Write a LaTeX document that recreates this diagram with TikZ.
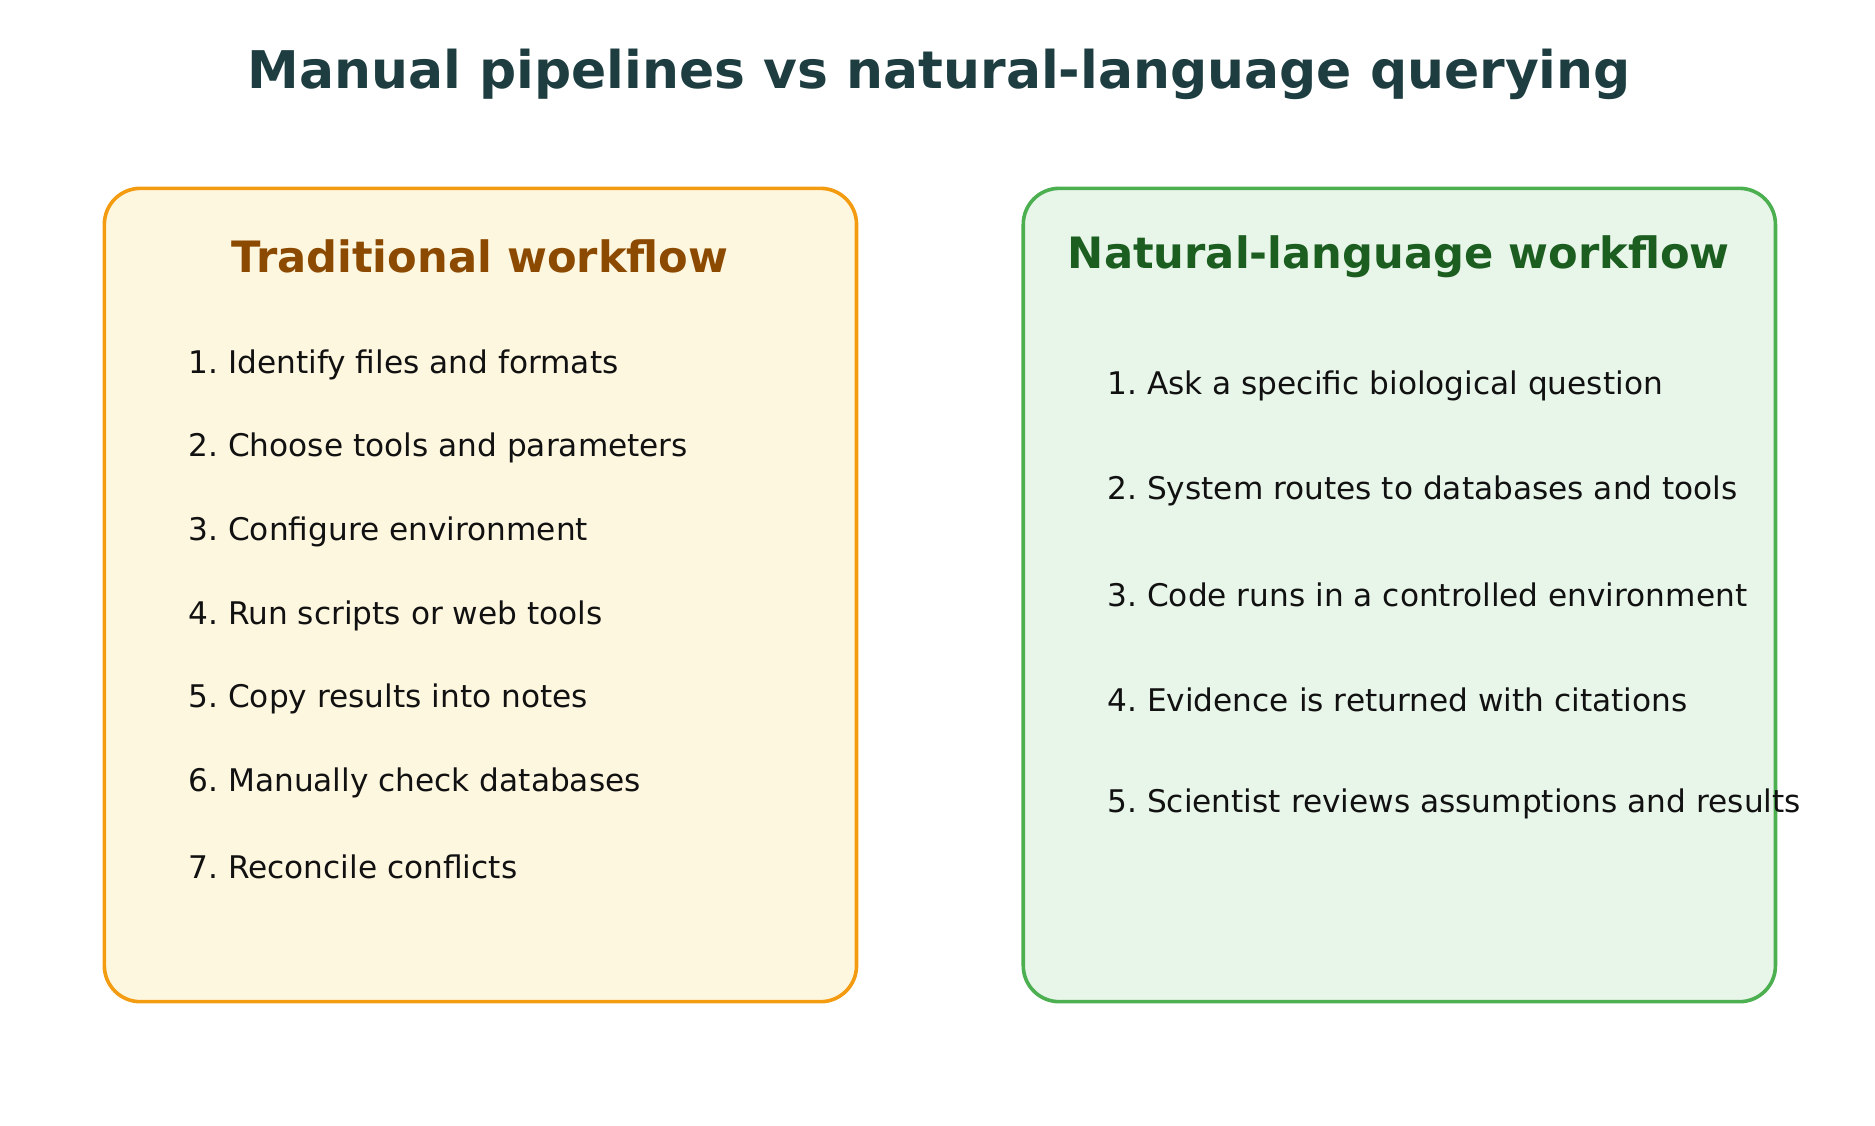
\documentclass[tikz,border=0pt]{standalone}
\usepackage{fontspec}
\setmainfont{DejaVu Sans}
\frenchspacing
\definecolor{ttl}{HTML}{1D3D40}
\definecolor{obord}{HTML}{F39C12}
\definecolor{ofill}{HTML}{FEF7E0}
\definecolor{ohead}{HTML}{8B4A00}
\definecolor{gbord}{HTML}{4CAF50}
\definecolor{gfill}{HTML}{E8F5E9}
\definecolor{ghead}{HTML}{1B5E20}
\definecolor{itm}{HTML}{111111}
\begin{document}
\begin{tikzpicture}[x=1pt,y=-1pt,
  panel/.style={rounded corners=30pt,line width=3pt},
  head/.style={font=\fontsize{36}{42}\selectfont\bfseries},
  item/.style={anchor=west,text=itm,font=\fontsize{26}{31}\selectfont,inner sep=0pt}]
\useasboundingbox (0,0) rectangle (1563,938);
\node[text=ttl,font=\fontsize{43.3}{50}\selectfont\bfseries] (title) at (783,62) {Manual pipelines vs natural-language querying};
\draw[panel,draw=obord,fill=ofill] (87,157) rectangle (714,835);
\draw[panel,draw=gbord,fill=gfill] (853,157) rectangle (1480,835);
\node[head,text=ohead] (lh) at (400,214) {Traditional workflow};
\node[head,text=ghead] (rh) at (1166,214) {Natural-language workflow};
\foreach \t [count=\i] in {Identify files and formats,Choose tools and parameters,Configure environment,Run scripts or web tools,Copy results into notes,Manually check databases,Reconcile conflicts}
  \node[item] (l\i) at (157,{304+69.7*(\i-1)}) {\i. \t};
\foreach \t [count=\i] in {Ask a specific biological question,System routes to databases and tools,Code runs in a controlled environment,Evidence is returned with citations,Scientist reviews assumptions and results}
  \node[item] (r\i) at (923,{322+87*(\i-1)}) {\i. \t};
\end{tikzpicture}
\end{document}
